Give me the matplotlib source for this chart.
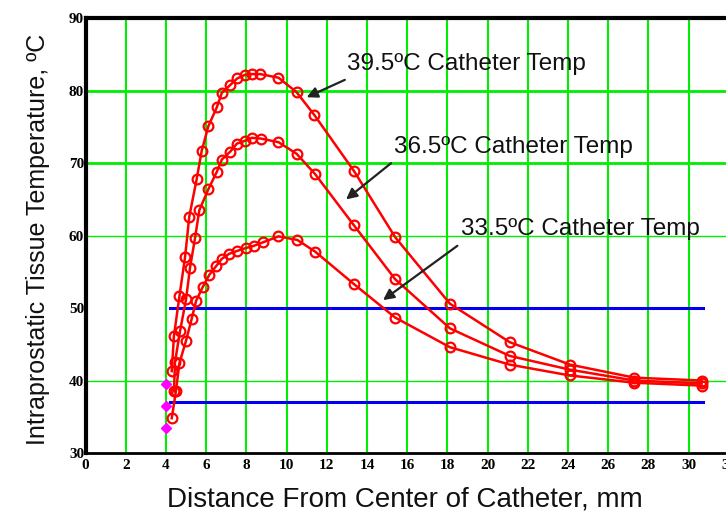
import numpy as np
import matplotlib.pyplot as plt

# distance from catheter centre (mm) and tissue temperature (C)
x_hi = [4.29, 4.40, 4.67, 4.95, 5.16, 5.53, 5.78, 6.11, 6.53, 6.78, 7.20, 7.55, 7.94,
        8.27, 8.68, 9.60, 10.50, 11.37, 13.36, 15.40, 18.13, 21.10, 24.10, 27.30, 30.65]
t_hi = [41.3, 46.2, 51.6, 57.0, 62.6, 67.8, 71.7, 75.1, 77.7, 79.7, 80.8, 81.7, 82.2,
        82.3, 82.3, 81.8, 79.8, 76.7, 68.9, 59.8, 50.6, 45.3, 42.2, 40.4, 40.0]

x_mid = [4.40, 4.45, 4.70, 5.00, 5.20, 5.45, 5.66, 6.11, 6.53, 6.78, 7.20, 7.53, 7.94,
         8.27, 8.72, 9.60, 10.50, 11.42, 13.36, 15.40, 18.13, 21.10, 24.10, 27.30, 30.65]
t_mid = [38.5, 42.5, 46.8, 51.2, 55.6, 59.7, 63.5, 66.4, 68.8, 70.5, 71.6, 72.7, 73.1,
         73.5, 73.4, 72.9, 71.3, 68.5, 61.4, 54.0, 47.2, 43.4, 41.5, 40.0, 39.6]

x_lo = [4.29, 4.50, 4.67, 5.00, 5.28, 5.50, 5.83, 6.16, 6.50, 6.78, 7.15, 7.55, 7.99,
        8.38, 8.85, 9.60, 10.54, 11.42, 13.36, 15.40, 18.13, 21.10, 24.10, 27.30, 30.65]
t_lo = [34.8, 38.6, 42.4, 45.5, 48.5, 51.0, 52.9, 54.6, 55.8, 56.8, 57.5, 57.9, 58.3,
        58.6, 59.1, 59.9, 59.4, 57.8, 53.3, 48.7, 44.6, 42.2, 40.7, 39.7, 39.3]

catheter_x = [4.0, 4.0, 4.0]
catheter_t = [39.5, 36.5, 33.5]

limit_t = [50, 37]
limit_x = [4.2, 30.7]

labels = ["39.5\u00baC Catheter Temp", "36.5\u00baC Catheter Temp", "33.5\u00baC Catheter Temp"]
label_pos = [(13.0, 83.7), (15.35, 72.3), (18.7, 60.9)]
arrow_tail = [(12.9, 81.5), (15.2, 70.0), (18.5, 58.6)]
arrow_head = [(11.0, 79.1), (12.96, 65.0), (14.8, 51.1)]

fig = plt.figure(figsize=(7.26, 5.18), dpi=100)
ax = fig.add_axes([0.1178, 0.1255, 0.886, 0.8392])

green = "#00ee00"
for gx in range(2, 32, 2):
    ax.axvline(gx, color=green, lw=1.5, zorder=1)
for gy, w in [(40, 1.0), (60, 1.0), (70, 2.0), (80, 2.0)]:
    ax.axhline(gy, color=green, lw=w, zorder=1)

for t in limit_t:
    ax.plot(limit_x, [t, t], color="#0000ee", lw=2.2, zorder=2)

for xs, ts in [(x_hi, t_hi), (x_mid, t_mid), (x_lo, t_lo)]:
    ax.plot(xs, ts, color="red", lw=1.8, marker="o", ms=7, mfc="none",
            mec="red", mew=1.6, zorder=3)

ax.plot(catheter_x, catheter_t, ls="none", marker="D", ms=5.5, color="#ff00ff", zorder=4)

for lab, pos, tail, head in zip(labels, label_pos, arrow_tail, arrow_head):
    ax.text(pos[0], pos[1], lab, ha="left", va="center", fontsize=17.5,
            family="Liberation Sans", color="#111111", zorder=5)
    ax.annotate("", xy=head, xytext=tail,
                arrowprops=dict(arrowstyle="-|>", color="#222222", lw=1.6,
                                mutation_scale=16, shrinkA=0, shrinkB=0), zorder=5)

ax.set_xlim(0, 32)
ax.set_ylim(30, 90)
ax.set_xticks(range(0, 34, 2))
ax.set_yticks(range(30, 100, 10))
ax.tick_params(length=0, pad=4)
ax.tick_params(axis="y", pad=1)
for lab in ax.get_xticklabels() + ax.get_yticklabels():
    lab.set_family("Liberation Serif")
    lab.set_fontweight("bold")
    lab.set_fontsize(11)

ax.spines["left"].set_linewidth(3)
ax.spines["top"].set_linewidth(3)
ax.spines["bottom"].set_linewidth(2)
ax.spines["right"].set_visible(False)

fig.text(0.558, 0.035, "Distance From Center of Catheter, mm", ha="center", va="center",
         fontsize=20, family="Liberation Sans", color="#111111")
fig.text(0.052, 0.537, "Intraprostatic Tissue Temperature, \u00baC", ha="center", va="center",
         rotation=90, fontsize=18, family="Liberation Sans", color="#111111")

fig.savefig("out.png", dpi=100)
